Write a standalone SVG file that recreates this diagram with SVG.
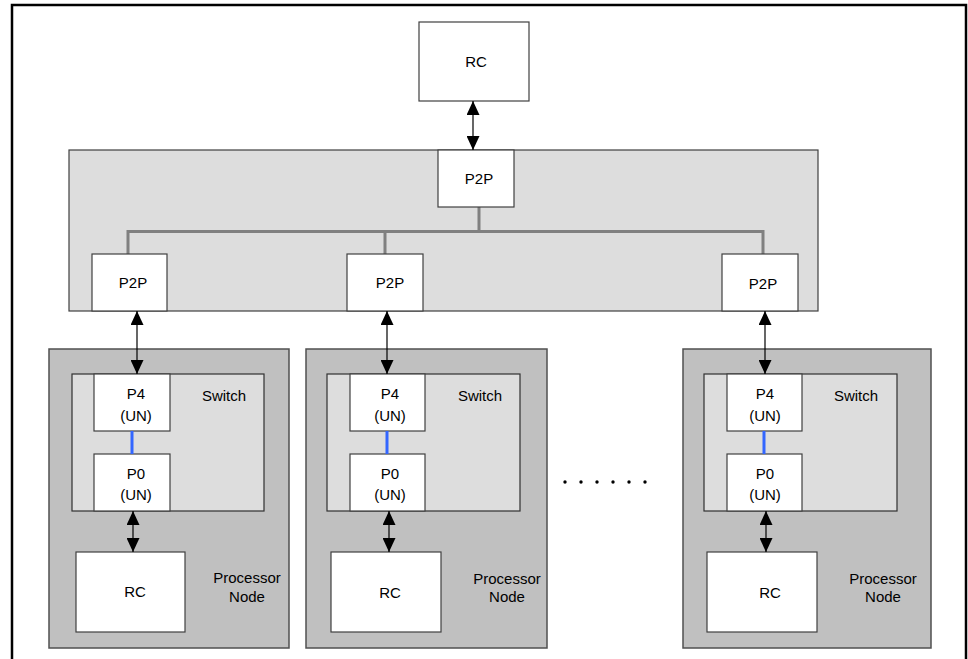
<svg xmlns="http://www.w3.org/2000/svg" width="968" height="659" viewBox="0 0 968 659">
<style>
text{font-family:"Liberation Sans",Arial,sans-serif;font-size:15px;fill:#000;text-anchor:middle}
.box{fill:#fff;stroke:#404040;stroke-width:1.2}
.panel{fill:#dddddd;stroke:#404040;stroke-width:1.2}
.node{fill:#c0c0c0;stroke:#505050;stroke-width:1.5}
.sw{fill:#dddddd;stroke:#303030;stroke-width:1.2}
.bus{stroke:#808080;stroke-width:3;fill:none}
.blue{stroke:#3366ff;stroke-width:3}
.arr{stroke:#000;stroke-width:1.2;marker-start:url(#ah);marker-end:url(#ah)}
</style>
<defs>
<marker id="ah" viewBox="0 0 14 13" refX="14" refY="6.5" markerWidth="14" markerHeight="13" markerUnits="userSpaceOnUse" orient="auto-start-reverse">
<path d="M0,0 L14,6.5 L0,13 Z" fill="#000"/>
</marker>
</defs>
<rect x="0" y="0" width="968" height="659" fill="#fff"/>
<rect id="frame" x="12" y="5" width="954" height="670" fill="none" stroke="#000" stroke-width="2.5"/>

<g id="fabric">
<rect class="panel" x="69" y="150" width="749" height="161"/>
</g>

<g id="bus">
<path class="bus" d="M128,254 V231.5 H763 V254 M479,207 V231.5 M385,231.5 V254"/>
</g>

<g id="top-rc"><rect class="box" x="419" y="22" width="110" height="79"/><text x="476" y="67">RC</text></g>

<g id="p2p-top"><rect class="box" x="438" y="150" width="76" height="57"/><text x="479" y="184">P2P</text></g>
<g id="p2p-left"><rect class="box" x="92" y="254" width="75" height="57"/><text x="133" y="288">P2P</text></g>
<g id="p2p-mid"><rect class="box" x="347" y="254" width="76" height="57"/><text x="390" y="288">P2P</text></g>
<g id="p2p-right"><rect class="box" x="722" y="254" width="76" height="57"/><text x="763" y="289">P2P</text></g>

<g id="node-left">
<rect class="node" x="49" y="349" width="240" height="299"/>
<rect class="sw" x="72" y="374" width="192" height="137"/>
<text x="224" y="401">Switch</text>
<rect class="box" x="94" y="374" width="76" height="57"/>
<text x="136" y="399">P4</text><text x="136" y="421">(UN)</text>
<rect class="box" x="94" y="454" width="76" height="57"/>
<text x="136" y="479">P0</text><text x="136" y="500">(UN)</text>
<line class="blue" x1="132" y1="431" x2="132" y2="454"/>
<rect class="box" x="76" y="552" width="109" height="80"/>
<text x="135" y="597">RC</text>
<text x="247" y="583">Processor</text><text x="247" y="602">Node</text>
</g>

<g id="node-mid">
<rect class="node" x="306" y="349" width="241" height="299"/>
<rect class="sw" x="327" y="374" width="193" height="137"/>
<text x="480" y="401">Switch</text>
<rect class="box" x="350" y="374" width="75" height="57"/>
<text x="390" y="399">P4</text><text x="390" y="421">(UN)</text>
<rect class="box" x="350" y="454" width="75" height="57"/>
<text x="390" y="479">P0</text><text x="390" y="500">(UN)</text>
<line class="blue" x1="387" y1="431" x2="387" y2="454"/>
<rect class="box" x="331" y="552" width="110" height="80"/>
<text x="390" y="598">RC</text>
<text x="507" y="584">Processor</text><text x="507" y="602">Node</text>
</g>

<g id="dots" fill="#000">
<circle cx="565" cy="482" r="1.7"/><circle cx="581" cy="482" r="1.7"/><circle cx="597" cy="482" r="1.7"/>
<circle cx="613" cy="482" r="1.7"/><circle cx="629" cy="482" r="1.7"/><circle cx="645" cy="482" r="1.7"/>
</g>

<g id="node-right">
<rect class="node" x="683" y="349" width="248" height="299"/>
<rect class="sw" x="704" y="374" width="193" height="137"/>
<text x="856" y="401">Switch</text>
<rect class="box" x="727" y="374" width="75" height="57"/>
<text x="765" y="399">P4</text><text x="765" y="421">(UN)</text>
<rect class="box" x="727" y="454" width="75" height="57"/>
<text x="765" y="479">P0</text><text x="765" y="500">(UN)</text>
<line class="blue" x1="764" y1="431" x2="764" y2="454"/>
<rect class="box" x="707" y="552" width="110" height="80"/>
<text x="770" y="598">RC</text>
<text x="883" y="584">Processor</text><text x="883" y="602">Node</text>
</g>

<g id="connectors">
<line class="arr" x1="473" y1="101" x2="473" y2="150"/>
<line class="arr" x1="137" y1="311" x2="137" y2="374"/>
<line class="arr" x1="133" y1="511" x2="133" y2="552"/>
<line class="arr" x1="387" y1="311" x2="387" y2="374"/>
<line class="arr" x1="389" y1="511" x2="389" y2="552"/>
<line class="arr" x1="765" y1="311" x2="765" y2="374"/>
<line class="arr" x1="766" y1="511" x2="766" y2="552"/>
</g>
</svg>
